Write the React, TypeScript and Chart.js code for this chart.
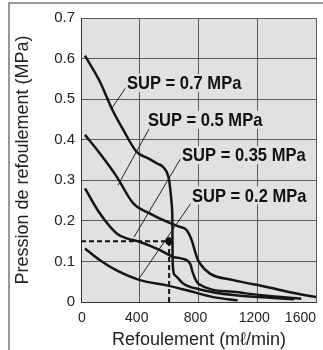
import React, { useEffect, useRef } from "react";
import { Chart, registerables } from "chart.js";

Chart.register(...registerables);

// ---- data ----
const xTickValues = [0, 400, 800, 1200, 1600];
const xTickLabels = ["0", "400", "800", "1200", "1600"];
const yTickLabels = ["0", "0.1", "0.2", "0.3", "0.4", "0.5", "0.6", "0.7"];

const sup07X = [27, 129, 209, 288, 379, 458, 515, 561, 595, 606, 617, 622, 624, 640, 697, 810, 1036, 1265, 1450];
const sup07Y = [0.607, 0.543, 0.477, 0.424, 0.37, 0.354, 0.342, 0.332, 0.309, 0.284, 0.243, 0.202, 0.095, 0.066, 0.045, 0.031, 0.017, 0.011, 0.007];

const sup05X = [27, 129, 243, 356, 470, 584, 674, 720, 754, 788, 810, 878, 1036, 1265, 1450, 1600];
const sup05Y = [0.412, 0.366, 0.309, 0.243, 0.218, 0.198, 0.185, 0.177, 0.152, 0.111, 0.095, 0.07, 0.054, 0.037, 0.022, 0.012];

const sup035X = [27, 129, 243, 311, 402, 538, 629, 686, 742, 763, 799, 1036, 1250, 1500];
const sup035Y = [0.28, 0.218, 0.169, 0.157, 0.148, 0.128, 0.111, 0.107, 0.095, 0.07, 0.045, 0.025, 0.016, 0.008];

const sup02X = [27, 129, 243, 402, 584, 720, 901, 1067];
const sup02Y = [0.132, 0.103, 0.078, 0.054, 0.041, 0.029, 0.012, 0.004];

const refX = [0, 600, 600];
const refY = [0.15, 0.15, 0];
const pointX = [600];
const pointY = [0.15];

const curveLabels = ["SUP = 0.7 MPa", "SUP = 0.5 MPa", "SUP = 0.35 MPa", "SUP = 0.2 MPa"];
const labelX = [313, 456, 688, 756];
const labelY = [0.54, 0.449, 0.362, 0.263];
const leaderFromX = [313, 470, 681, 749];
const leaderFromY = [0.533, 0.431, 0.355, 0.244];
const leaderToX = [211, 252, 361, 388];
const leaderToY = [0.478, 0.288, 0.16, 0.054];

const xTitle = "Refoulement (m\u2113/min)";
const yTitle = "Pression de refoulement (MPa)";

const FONT = '"Liberation Sans", Arial, Helvetica, sans-serif';
const BG = "#e1e1e1";

const pts = (xs: number[], ys: number[]) => xs.map((x, i) => ({ x, y: ys[i] }));

const curve = (xs: number[], ys: number[]) => ({
  data: pts(xs, ys),
  showLine: true,
  borderColor: "#151515",
  borderWidth: 2.5,
  pointRadius: 0,
  cubicInterpolationMode: "monotone" as const,
});

const decor = {
  id: "decor",
  beforeDraw(chart: any) {
    const { ctx, chartArea: a } = chart;
    ctx.save();
    ctx.fillStyle = "#fff";
    ctx.fillRect(0, 0, chart.width, chart.height);
    ctx.fillStyle = BG;
    ctx.fillRect(a.left, a.top, a.right - a.left, a.bottom - a.top);
    ctx.strokeStyle = "#777";
    ctx.lineWidth = 1.5;
    ctx.beginPath();
    ctx.moveTo(9, chart.height);
    ctx.lineTo(9, 3);
    ctx.lineTo(chart.width, 3);
    ctx.stroke();
    ctx.restore();
  },
  afterDraw(chart: any) {
    const { ctx, chartArea: a } = chart;
    const xs = chart.scales.x;
    const ys = chart.scales.y;
    ctx.save();
    // leader lines
    ctx.strokeStyle = "#222";
    ctx.lineWidth = 1;
    for (let i = 0; i < curveLabels.length; i++) {
      ctx.beginPath();
      ctx.moveTo(xs.getPixelForValue(leaderFromX[i]), ys.getPixelForValue(leaderFromY[i]));
      ctx.lineTo(xs.getPixelForValue(leaderToX[i]), ys.getPixelForValue(leaderToY[i]));
      ctx.stroke();
    }
    // labels (slightly condensed bold)
    ctx.font = `bold 19px ${FONT}`;
    ctx.textBaseline = "middle";
    ctx.textAlign = "left";
    for (let i = 0; i < curveLabels.length; i++) {
      const px = xs.getPixelForValue(labelX[i]);
      const py = ys.getPixelForValue(labelY[i]);
      const w = ctx.measureText(curveLabels[i]).width;
      ctx.save();
      ctx.translate(px, py);
      ctx.scale(0.87, 1);
      ctx.fillStyle = BG;
      ctx.fillRect(-2, -9, w + 4, 18);
      ctx.fillStyle = "#111";
      ctx.fillText(curveLabels[i], 0, 1);
      ctx.restore();
    }
    // x tick labels
    ctx.font = `14px ${FONT}`;
    ctx.fillStyle = "#222";
    ctx.textBaseline = "middle";
    xTickValues.forEach((v, i) => {
      const px = xs.getPixelForValue(v);
      if (i === xTickValues.length - 1) {
        ctx.textAlign = "right";
        ctx.fillText(xTickLabels[i], px, a.bottom + 16);
      } else {
        ctx.textAlign = "center";
        ctx.fillText(xTickLabels[i], i === 0 ? px + 1 : px - 3, a.bottom + 16);
      }
    });
    // titles
    ctx.font = `18px ${FONT}`;
    ctx.fillStyle = "#222";
    ctx.textAlign = "center";
    ctx.textBaseline = "alphabetic";
    ctx.fillText(xTitle, 199, 345);
    ctx.translate(28, (a.top + a.bottom) / 2);
    ctx.rotate(-Math.PI / 2);
    ctx.fillText(yTitle, 0, 0);
    ctx.restore();
  },
};

export default function App() {
  const ref = useRef<HTMLCanvasElement | null>(null);
  useEffect(() => {
    if (!ref.current) return;
    const chart = new Chart(ref.current, {
      type: "scatter",
      data: {
        datasets: [
          curve(sup07X, sup07Y),
          curve(sup05X, sup05Y),
          curve(sup035X, sup035Y),
          curve(sup02X, sup02Y),
          {
            data: pts(refX, refY),
            showLine: true,
            borderColor: "#111",
            borderWidth: 2,
            borderDash: [5, 3],
            pointRadius: 0,
            tension: 0,
          },
          {
            data: pts(pointX, pointY),
            showLine: false,
            pointRadius: 3.5,
            pointBackgroundColor: "#111",
            pointBorderColor: "#111",
          },
        ] as any,
      },
      options: {
        responsive: false,
        devicePixelRatio: 1,
        animation: false,
        layout: { padding: { left: 0, right: 7, top: 18, bottom: 0 }, autoPadding: false },
        plugins: { legend: { display: false }, tooltip: { enabled: false } },
        scales: {
          x: {
            type: "linear",
            min: 0,
            max: 1600,
            ticks: { display: false, stepSize: 400 },
            grid: { color: "#5a5a5a", lineWidth: 1, drawTicks: false },
            border: { display: true, color: "#333", width: 1 },
            afterFit: (s: any) => {
              s.height = 48;
            },
          },
          y: {
            type: "linear",
            min: 0,
            max: 0.7,
            ticks: {
              stepSize: 0.1,
              padding: 6,
              color: "#222",
              font: { size: 15, family: FONT },
              callback: (_v: any, i: number) => yTickLabels[i],
            },
            grid: { color: "#5a5a5a", lineWidth: 1, drawTicks: false },
            border: { display: true, color: "#333", width: 1 },
            afterFit: (s: any) => {
              s.width = 81;
            },
          },
        },
      } as any,
      plugins: [decor],
    });
    return () => chart.destroy();
  }, []);
  return (
    <div style={{ position: "absolute", left: 0, top: 0, width: 323, height: 350 }}>
      <canvas ref={ref} width={323} height={350} style={{ display: "block", width: 323, height: 350 }} />
    </div>
  );
}
